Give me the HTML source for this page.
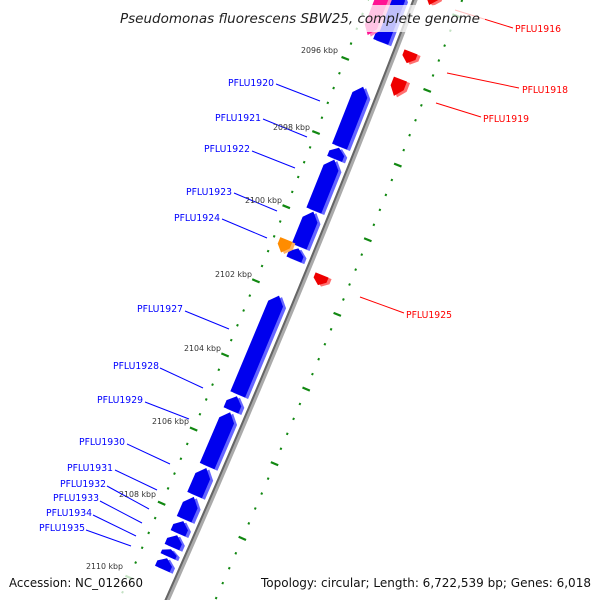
<!DOCTYPE html>
<html><head><meta charset="utf-8"><style>
html,body{margin:0;padding:0;background:#fff;overflow:hidden;width:600px;height:600px}
svg{display:block;font-family:"DejaVu Sans","Liberation Sans",sans-serif}
</style></head><body>
<svg id="map" width="600" height="600" viewBox="0 0 600 600" xmlns="http://www.w3.org/2000/svg">
<rect x="0" y="0" width="600" height="600" fill="#fff"/>
<g id="rings"></g>
<g id="backbone"></g>
<g id="genes"></g>
<g id="labels"></g>
<g id="ticklabels"></g>
<rect x="113" y="5" width="372" height="27" fill="#fff" opacity="0.75"/>
<text x="120" y="23" textLength="360" lengthAdjust="spacingAndGlyphs" font-size="13" font-style="italic" fill="#222">Pseudomonas fluorescens SBW25, complete genome</text>
<rect x="5" y="572" width="160" height="22" fill="#fff" opacity="0.75"/>
<text x="9" y="587" textLength="134" lengthAdjust="spacingAndGlyphs" font-size="12" fill="#111">Accession: NC_012660</text>
<text x="261" y="587" textLength="330" lengthAdjust="spacingAndGlyphs" font-size="12" fill="#111">Topology: circular; Length: 6,722,539 bp; Genes: 6,018</text>
</svg>
<script>
// data (kbp)
const blueNames=["","PFLU1920","PFLU1921","PFLU1922","PFLU1923","PFLU1924","PFLU1927","PFLU1928","PFLU1929","PFLU1930","PFLU1931","PFLU1932","PFLU1933","PFLU1934","PFLU1935"];
const blueStart=[2093.89,2096.50,2098.14,2098.46,2099.86,2100.85,2102.12,2104.83,2105.26,2106.76,2107.54,2108.19,2108.57,2108.95,2109.19];
const blueEnd=[2095.29,2098.11,2098.44,2099.83,2100.80,2101.15,2104.78,2105.21,2106.71,2107.49,2108.14,2108.52,2108.89,2109.14,2109.48];
const otherStart=[2094.04,2100.76];
const otherEnd=[2095.25,2101.11];
const otherColors=["#ff1493","#ff8c00"];
const redNames=["PFLU1916","PFLU1918","PFLU1919","PFLU1925"];
const redStart=[2093.58,2095.25,2095.98,2101.24];
const redEnd=[2093.99,2095.55,2096.43,2101.51];
const tickKbp=[2096,2098,2100,2102,2104,2106,2108,2110];
// label layout
const blueLabelPos=[[274,86,276,84,320,101],[261,121,263,119,307,137],[250,152,252,151,295,168],[232,195,234,193,277,211],[220,221,222,219,267,238],[183,312,185,311,229,329],[159,369,160,368,203,388],[143,403,145,402,189,419],[125,445,127,444,170,464],[113,471,115,470,157,490],[106,487,107,486,149,509],[99,501,100,501,142,523],[92,516,93,515,136,536],[85,531,86,530,131,546]];
const redLabelPos=[[515,32,455,10,513,28],[522,93,447,73,519,88],[483,122,436,103,481,117],[406,318,360,297,404,313]];
const tickLabelPos=[[338,53],[310,130],[282,203],[252,277],[221,351],[189,424],[156,497],[123,569]];

const NS="http://www.w3.org/2000/svg";
function mk(tag,attrs,parent){const e=document.createElementNS(NS,tag);for(const k in attrs)e.setAttribute(k,attrs[k]);parent.appendChild(e);return e;}
function yb(g){return 74.4+(g-2096)*37.2;}
function xb(y){return 415-0.383*y-0.00005*y*y;}
function P(g,d){const y=yb(g);const s=-0.383-0.0001*y;const L=Math.hypot(1,s);const nx=1/L,ny=-s/L;return [xb(y)+d*nx,y+d*ny];}
const rings=document.getElementById('rings');
const bb=document.getElementById('backbone');
const genes=document.getElementById('genes');
const labels=document.getElementById('labels');
const tl=document.getElementById('ticklabels');

// backbone
let pts=[];for(let g=2092;g<=2112;g+=0.25){pts.push(P(g,0));}
let pl=mk('polyline',{points:pts.map(p=>p.join(',')).join(' '),fill:'none',stroke:'#aaa','stroke-width':5},bb);

let pts2=[];for(let g=2092;g<=2112;g+=0.25){pts2.push(P(g,-1.5));}
let pl2=mk('polyline',{points:pts2.map(p=>p.join(',')).join(' '),fill:'none',stroke:'#666','stroke-width':2},bb);


// rings
[-44,44].forEach(d=>{
  for(let i=0;i<=55;i++){const g=2092+i*0.4;const major=Math.abs(g-Math.round(g))<0.01&&Math.round(g)%2===0;
    let a,b;
    if(major){a=P(g,d-4);b=P(g,d+4);}else{a=P(g,d-1);b=P(g,d+1);}
    const ln=mk('line',{x1:a[0],y1:a[1],x2:b[0],y2:b[1],stroke:'#118811','stroke-width':major?2.2:2.2},rings);
    }
});

function gene(s,e,d0,d1,color,side,dir,name){
  const head=Math.min(0.22,(e-s)*0.5);
  let poly;
  if(dir<0){poly=[P(s,(d0+d1)/2),P(s+head,d0),P(e,d0),P(e,d1),P(s+head,d1)];}
  else{poly=[P(s,d0),P(e-head,d0),P(e,(d0+d1)/2),P(e-head,d1),P(s,d1)];}
  const str=q=>q.map(p=>p.join(',')).join(' ');
  const sh=mk('polygon',{points:str(poly.map(p=>[p[0]+3,p[1]+1.5])),fill:side},genes);
  
  const m=mk('polygon',{points:str(poly),fill:color},genes);
  
}
for(let i=0;i<blueStart.length;i++){gene(blueStart[i],blueEnd[i],-25,-9,'#0000ee','#6666ff',-1,'gene-'+(blueNames[i]||'partial').toLowerCase());}
for(let i=0;i<otherStart.length;i++){gene(otherStart[i],otherEnd[i],-38,-25,otherColors[i],i?'#ffb060':'#ff80c0',1,'feature-'+i);}
for(let i=0;i<redStart.length;i++){gene(redStart[i],redEnd[i],8,22,'#ee0000','#ff7070',1,'gene-'+redNames[i].toLowerCase());}

// labels
function label(name,p,color){
  const ln=mk('line',{x1:p[2],y1:p[3],x2:p[4],y2:p[5],stroke:color,'stroke-width':1},labels);
  
  const x=color==='#0000ff'?p[0]-46:p[0];
  const t=mk('text',{x:x,y:p[1],textLength:46,lengthAdjust:'spacingAndGlyphs','font-size':9.5,fill:color},labels);
  t.textContent=name;
}
for(let i=1;i<blueNames.length;i++)label(blueNames[i],blueLabelPos[i-1],'#0000ff');
for(let i=0;i<redNames.length;i++)label(redNames[i],redLabelPos[i],'#ff0000');
for(let i=0;i<tickKbp.length;i++){const t=mk('text',{x:tickLabelPos[i][0]-37,y:tickLabelPos[i][1],textLength:37,lengthAdjust:'spacingAndGlyphs','font-size':8,fill:'#333'},tl);
  t.textContent=tickKbp[i]+' kbp';}
</script>
</body></html>
